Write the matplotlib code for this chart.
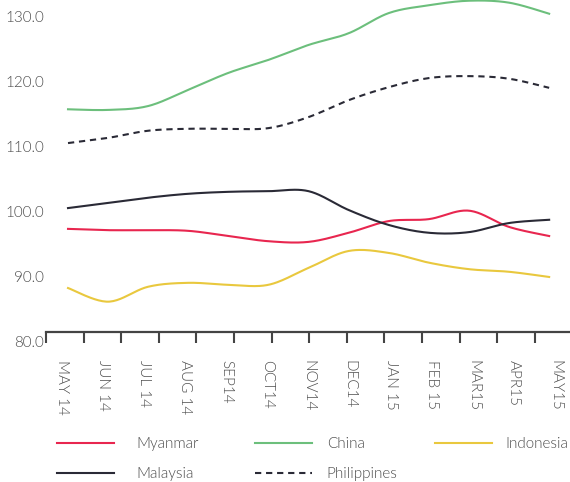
import numpy as np
import matplotlib
matplotlib.use("Agg")
import matplotlib.pyplot as plt
from matplotlib.lines import Line2D

plt.rcParams["font.family"] = ["Lato", "DejaVu Sans"]
plt.rcParams["font.weight"] = 300

months = ["MAY 14", "JUN 14", "JUL 14", "AUG 14", "SEP14", "OCT14", "NOV14",
          "DEC14", "JAN 15", "FEB 15", "MAR15", "APR15", "MAY15"]
y_ticks = [80, 90, 100, 110, 120, 130]

myanmar = [97.4, 97.2, 97.2, 97.1, 96.3, 95.5, 95.4, 96.8, 98.6, 98.9, 100.2, 97.7, 96.3]
china = [115.8, 115.7, 116.3, 118.8, 121.4, 123.4, 125.7, 127.5, 130.6, 131.8, 132.5, 132.2, 130.5]
indonesia = [88.3, 86.2, 88.5, 89.1, 88.8, 88.8, 91.4, 94.0, 93.7, 92.2, 91.2, 90.8, 90.0]
malaysia = [100.6, 101.4, 102.2, 102.8, 103.1, 103.2, 103.2, 100.3, 98.0, 96.8, 96.9, 98.3, 98.8]
philippines = [110.6, 111.4, 112.5, 112.8, 112.8, 112.9, 114.6, 117.2, 119.2, 120.6, 120.9, 120.5, 119.1]

RED = "#e8264f"
GREEN = "#6cbf7c"
YELLOW = "#e9c83e"
DARK = "#2a2a36"
TEXT = "#4d4d4d"


def smooth(xs, ys, n=24):
    """Excel-style smoothed line (Catmull-Rom through the points)."""
    p = np.column_stack([xs, ys]).astype(float)
    out = []
    for i in range(len(p) - 1):
        p0 = p[i - 1] if i > 0 else p[i]
        p1, p2 = p[i], p[i + 1]
        p3 = p[i + 2] if i + 2 < len(p) else p[i + 1]
        c1 = p1 + (p2 - p0) / 6
        c2 = p2 - (p3 - p1) / 6
        t = np.linspace(0, 1, n)[:, None]
        seg = ((1 - t) ** 3 * p1 + 3 * (1 - t) ** 2 * t * c1
               + 3 * (1 - t) * t ** 2 * c2 + t ** 3 * p2)
        out.append(seg if i == 0 else seg[1:])
    seg = np.vstack(out)
    return seg[:, 0], seg[:, 1]


fig = plt.figure(figsize=(5.7, 4.82), dpi=100)
ax = fig.add_axes([0.0807, 0.2905, 0.9193, 0.7107])

x = np.arange(len(months))
series = [
    ("Myanmar", myanmar, RED, "-"),
    ("China", china, GREEN, "-"),
    ("Indonesia", indonesia, YELLOW, "-"),
    ("Malaysia", malaysia, DARK, "-"),
    ("Philippines", philippines, DARK, (0, (3, 2.3))),
]
for name, vals, col, ls in series:
    sx, sy = smooth(x, vals)
    ax.plot(sx, sy, color=col, lw=1.5, ls=ls, clip_on=False)

ax.set_xlim(-0.549, 12.52)
ax.set_ylim(80, 132.7)

for s in ["top", "right", "left"]:
    ax.spines[s].set_visible(False)
ax.spines["bottom"].set_position(("data", 81.5))
ax.spines["bottom"].set_color("#444444")
ax.spines["bottom"].set_linewidth(1.6)

ax.set_yticks(y_ticks)
ax.set_yticklabels([f"{v:.1f}" for v in y_ticks])
ax.tick_params(axis="y", length=0, pad=1.5, labelsize=11, labelcolor=TEXT)

# month labels sit slightly wider apart than the data points in the original
ax.set_xticks(-0.15 + 1.025 * x)
ax.set_xticklabels(months, rotation=270, fontsize=11, color=TEXT)
ax.tick_params(axis="x", which="major", length=0, pad=20)
ax.set_xticks(-0.549 + 0.9377 * np.arange(14), minor=True)
ax.tick_params(axis="x", which="minor", length=8, width=1.5, color="#444444",
               direction="out")

# legend laid out in three columns like the original
handles = {name: Line2D([], [], color=col, lw=1.5, ls=ls)
           for name, vals, col, ls in series}
cols = [(["Myanmar", "Malaysia"], 57, 1.5),
        (["China", "Philippines"], 255, 1.0),
        (["Indonesia"], 435, 0.9)]
for names, x0, tpad in cols:
    fig.legend([handles[n] for n in names], names, loc="upper left",
               bbox_to_anchor=(x0 / 570, 1 - 437 / 482), frameon=False,
               fontsize=11, labelcolor=TEXT, handlelength=3.7,
               handletextpad=tpad, labelspacing=1.05, borderpad=0,
               borderaxespad=0)

fig.savefig("out.png", dpi=100)
